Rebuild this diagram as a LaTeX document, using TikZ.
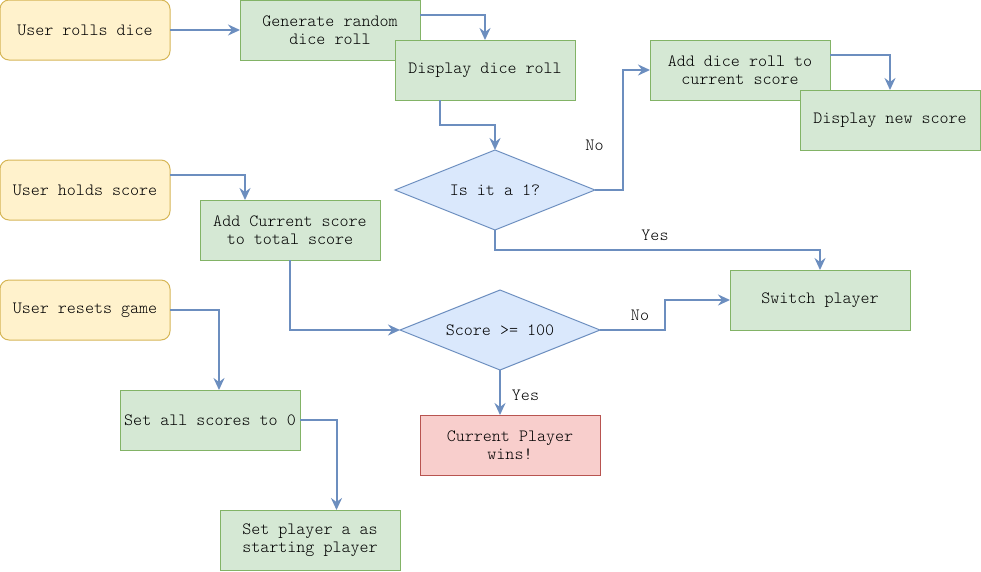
\documentclass[tikz,border=0pt]{standalone}
\usepackage{fontspec}
\setmonofont{Latin Modern Mono Light}
\usetikzlibrary{arrows.meta,shapes.geometric,calc}
\definecolor{yfill}{HTML}{FFF2CC}\definecolor{ydraw}{HTML}{D6B656}
\definecolor{gfill}{HTML}{D5E8D4}\definecolor{gdraw}{HTML}{82B366}
\definecolor{bfill}{HTML}{DAE8FC}\definecolor{bdraw}{HTML}{6C8EBF}
\definecolor{rfill}{HTML}{F8CECC}\definecolor{rdraw}{HTML}{B85450}
\tikzset{
  every node/.style={font=\ttfamily\fontsize{17.2}{18}\selectfont, text=black},
  basebox/.style={rectangle, minimum width=180pt, minimum height=60pt, inner sep=0pt, outer sep=0pt, align=center, line width=1pt},
  userbox/.style={basebox, rounded corners=9pt, fill=yfill, draw=ydraw, minimum width=170pt},
  procbox/.style={basebox, fill=gfill, draw=gdraw},
  endbox/.style={basebox, fill=rfill, draw=rdraw},
  decbox/.style={diamond, aspect=2.5, minimum width=200pt, minimum height=80pt, inner sep=0pt, outer sep=0pt, fill=bfill, draw=bdraw, line width=1pt},
  conn/.style={draw=bdraw, line width=2pt, -{Stealth[length=12pt,width=11pt,inset=4pt]}},
  lbl/.style={inner sep=0pt},
}
\begin{document}
\begin{tikzpicture}[x=1pt,y=-1pt]
\useasboundingbox (0,0) rectangle (981,571);
% nodes
\node[userbox] (roll) at (85,30) {User rolls dice};
\node[procbox] (gen) at (330,30) {Generate random\\dice roll};
\node[procbox] (disp) at (485,70) {Display dice roll};
\node[decbox] (isone) at (495,190) {Is it a 1?};
\node[procbox] (add) at (740,70) {Add dice roll to\\current score};
\node[procbox] (dnew) at (890,120) {Display new score};
\node[procbox] (switch) at (820,300) {Switch player};
\node[userbox] (holds) at (85,190) {User holds score};
\node[procbox] (addc) at (290,230) {Add Current score\\to total score};
\node[decbox] (score) at (500,330) {Score >= 100};
\node[endbox] (win) at (510,445) {Current Player\\wins!};
\node[userbox] (resets) at (85,310) {User resets game};
\node[procbox] (setall) at (210,420) {Set all scores to 0};
\node[procbox] (setp) at (310,540) {Set player a as\\starting player};
% labels
\node[lbl] (lno1) at (594.5,145) {No};
\node[lbl] (lyes1) at (655,235) {Yes};
\node[lbl] (lno2) at (640,315) {No};
\node[lbl] (lyes2) at (525.5,395) {Yes};
% connectors
\draw[conn] (roll.east) -- (gen.west);
\draw[conn] ([yshift=15pt]gen.east) -| (disp.north);
\draw[conn] ([xshift=-45pt]disp.south) -- ++(0,25) -| (isone.north);
\draw[conn] (isone.east) -- ++(28,0) |- (add.west);
\draw[conn] ([yshift=15pt]add.east) -| (dnew.north);
\draw[conn] (isone.south) -- ++(0,20) -| (switch.north);
\draw[conn] ([yshift=15pt]holds.east) -| ([xshift=-45pt]addc.north);
\draw[conn] (addc.south) |- (score.west);
\draw[conn] (score.east) -- ++(65,0) |- (switch.west);
\draw[conn] (score.south) -- (score.south |- win.north);
\draw[conn] (resets.east) -| ([xshift=9pt]setall.north);
\draw[conn] (setall.east) -| ([xshift=26.5pt]setp.north);
\end{tikzpicture}
\end{document}
